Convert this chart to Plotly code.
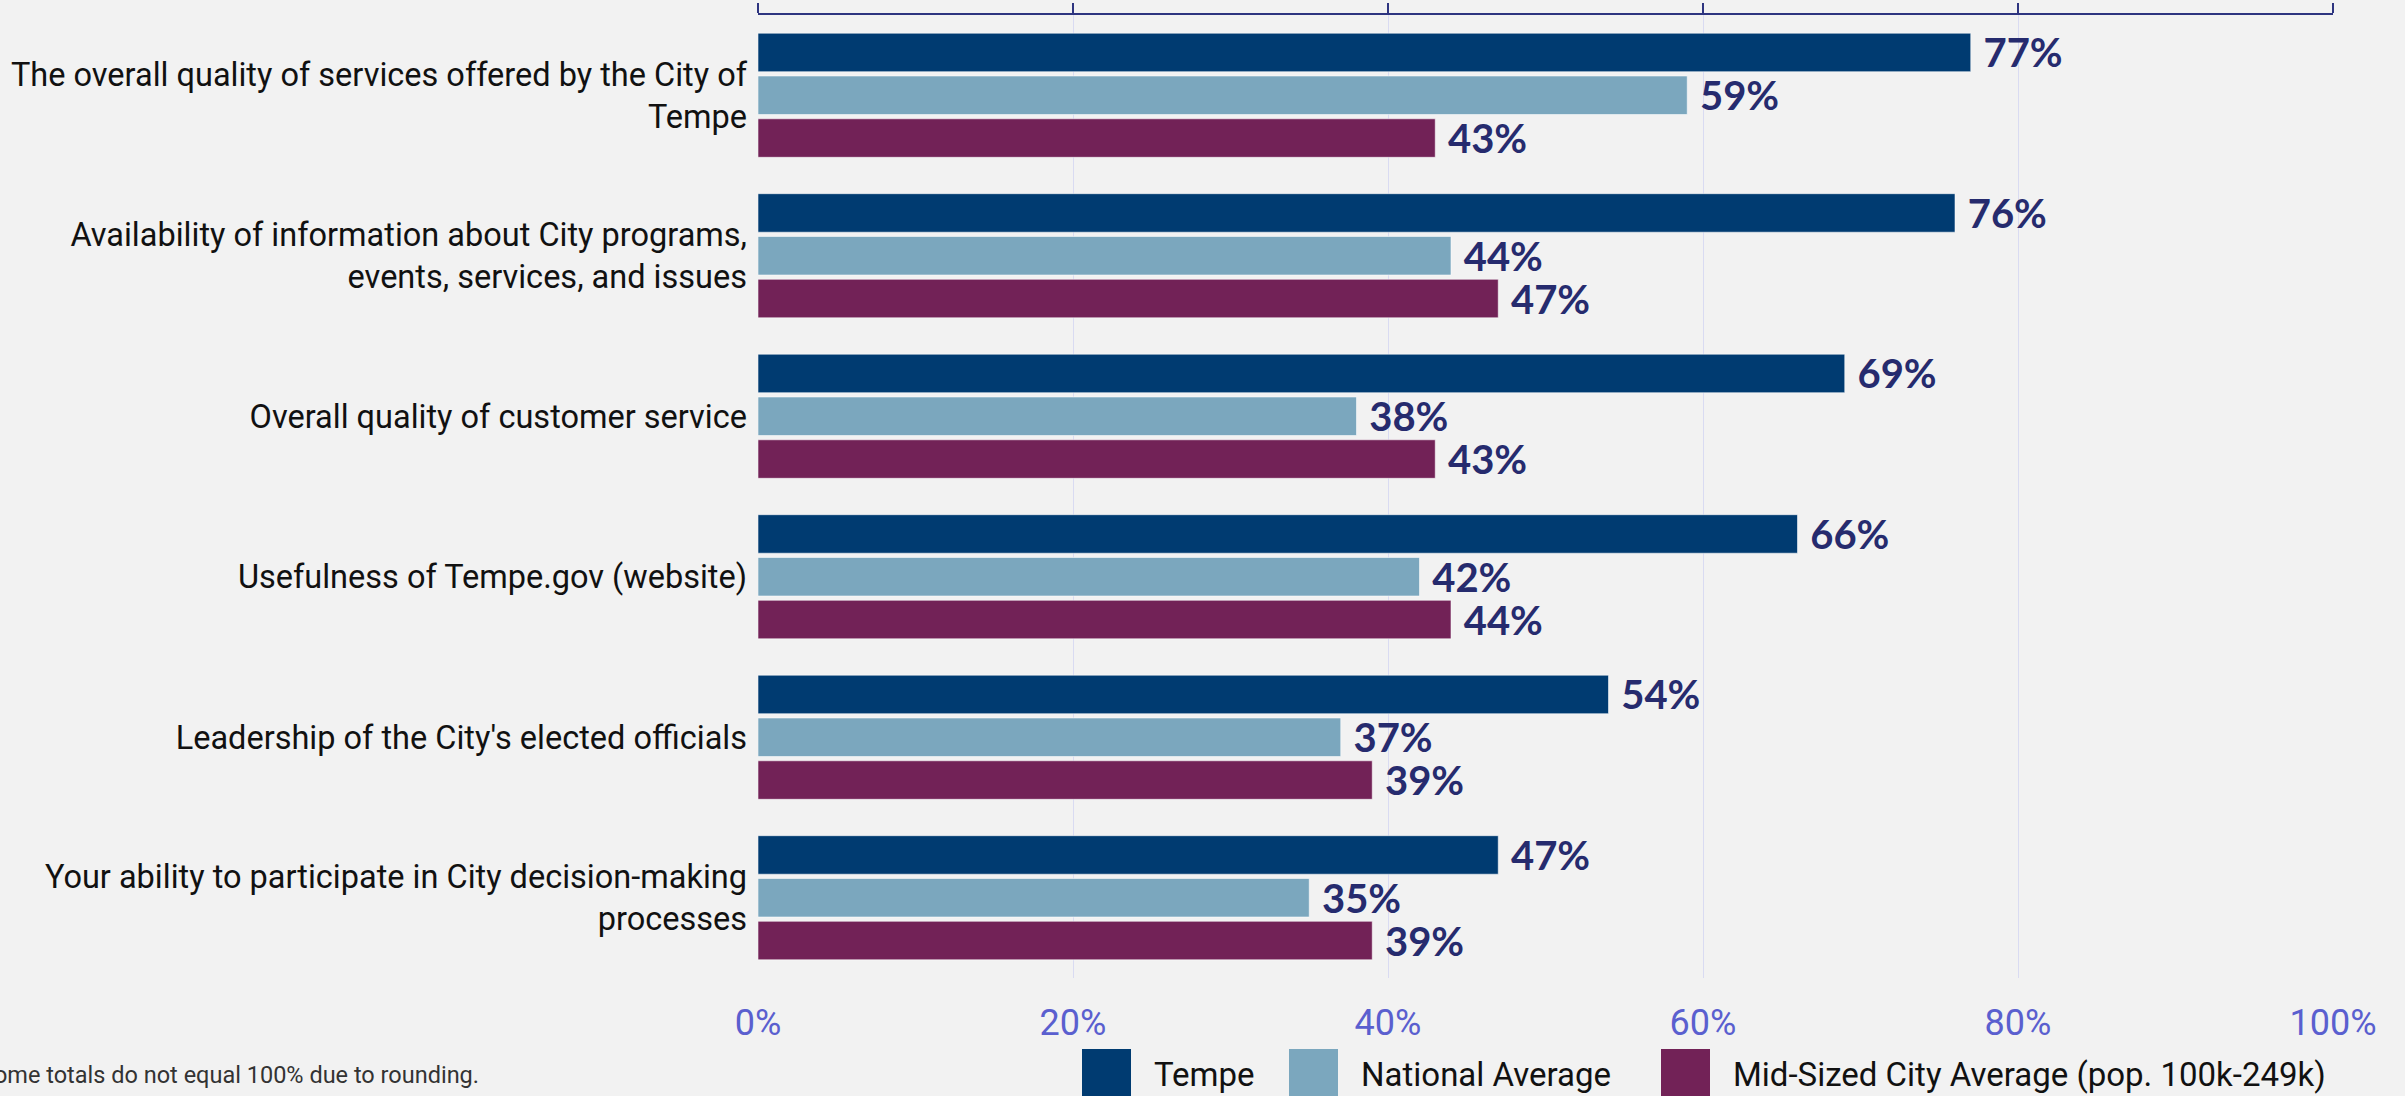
import plotly.graph_objects as go

categories = [
    "The overall quality of services offered by the City of<br>Tempe",
    "Availability of information about City programs,<br>events, services, and issues",
    "Overall quality of customer service",
    "Usefulness of Tempe.gov (website)",
    "Leadership of the City's elected officials",
    "Your ability to participate in City decision-making<br>processes",
]
tempe = [77, 76, 69, 66, 54, 47]
national = [59, 44, 38, 42, 37, 35]
midsized = [43, 47, 43, 44, 39, 39]
series_names = ["Tempe", "National Average", "Mid-Sized City Average (pop. 100k-249k)"]
series_colors = ["#003B71", "#7BA7BE", "#722257"]
x_ticks = [0, 20, 40, 60, 80, 100]
footnote = "Some totals do not equal 100% due to rounding."

W, H = 2405, 1096
ML, MR, MT, MB = 758, 72, 15, 118
PW = W - ML - MR
PH = H - MT - MB

LABEL_FONT = "Roboto"
VAL_FONT = "Lato"

def py(pix):
    """pixel y (from top of figure) -> paper y"""
    return (H - MB - pix) / PH

def px(pix):
    return (pix - ML) / PW

fig = go.Figure()
for name, vals, col in zip(series_names, [tempe, national, midsized], series_colors):
    fig.add_trace(go.Bar(
        y=categories, x=vals, name=name, orientation="h",
        marker=dict(color=col, line=dict(color="rgba(255,255,255,0.55)", width=1)),
        text=[f"\u00a0{v}%" for v in vals],
        textposition="outside", constraintext="none", cliponaxis=False,
        textfont=dict(family=VAL_FONT, size=40, color="#262B6E", weight="bold"),
        showlegend=False, hoverinfo="skip",
    ))

# invisible trace to anchor the top axis
fig.add_trace(go.Scatter(x=[0, 100], y=[categories[0], categories[0]], xaxis="x2",
                         mode="markers", marker=dict(opacity=0), showlegend=False, hoverinfo="skip"))

fig.update_layout(
    width=W, height=H,
    margin=dict(l=ML, r=MR, t=MT, b=MB, autoexpand=False),
    paper_bgcolor="#F2F2F2", plot_bgcolor="#F2F2F2",
    barmode="group", bargap=0.2, bargroupgap=0.1,
    xaxis=dict(range=[0, 100], tickvals=x_ticks, ticktext=[f"{t}%" for t in x_ticks],
               showgrid=True, gridcolor="#D9DBF2", gridwidth=1, zeroline=False,
               showline=False, ticks="", ticklabelstandoff=20, automargin=False,
               tickfont=dict(family=LABEL_FONT, size=36, color="#5A5FCF")),
    xaxis2=dict(range=[0, 100], tickvals=x_ticks, overlaying="x", side="top",
                showgrid=False, zeroline=False, showline=True, linecolor="#2E3580", linewidth=2,
                ticks="outside", ticklen=10, tickwidth=2, tickcolor="#2E3580",
                showticklabels=False, automargin=False),
    yaxis=dict(autorange="reversed", showgrid=False, zeroline=False, showline=False,
               ticks="", ticklabelstandoff=10, automargin=False,
               tickfont=dict(family=LABEL_FONT, size=32.5, color="#111111")),
    font=dict(family=LABEL_FONT),
)

# footnote
fig.add_annotation(text=footnote, xref="paper", yref="paper",
                   x=px(481), y=py(1075),
                   xanchor="right", yanchor="middle", showarrow=False,
                   font=dict(family=LABEL_FONT, size=23.5, color="#333333"))

# legend (manual, large swatches)
legend_items = [(1082, 1152), (1289, 1359), (1661, 1731)]
for (sx, tx), name, col in zip(legend_items, series_names, series_colors):
    fig.add_shape(type="rect", xref="paper", yref="paper",
                  x0=px(sx), x1=px(sx + 49), y0=py(1049), y1=py(1100),
                  fillcolor=col, line=dict(width=0), layer="above")
    fig.add_annotation(text=name, xref="paper", yref="paper",
                       x=px(tx), y=py(1074),
                       xanchor="left", yanchor="middle", showarrow=False,
                       font=dict(family=LABEL_FONT, size=33, color="#111111"))

fig.write_html("out.html", config={"displayModeBar": False},
               post_script="document.body.style.margin='0px';document.body.style.overflow='hidden';")
